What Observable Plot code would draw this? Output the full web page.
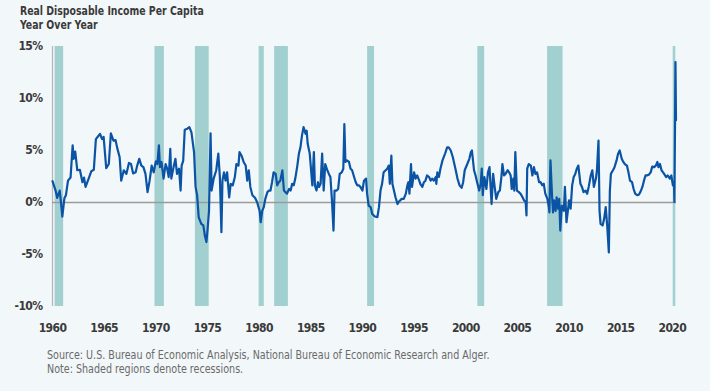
<!DOCTYPE html>
<html>
<head>
<meta charset="utf-8">
<script src="https://cdn.jsdelivr.net/npm/d3@7"></script>
<script src="https://cdn.jsdelivr.net/npm/@observablehq/plot@0.6"></script>
<style>
  html, body { margin: 0; padding: 0; width: 710px; height: 391px; overflow: hidden; background: #f2f7f9; }
  body { position: relative; font-family: "DejaVu Sans Condensed", "Roboto", sans-serif; font-stretch: condensed; }
  #title { position: absolute; left: 20px; top: 4px; font-size: 13px; line-height: 14px; font-weight: bold; color: #3a3a3a; transform: scaleX(0.8); transform-origin: 0 0; white-space: nowrap; }
  #chart { position: absolute; left: 0; top: 36px; }
  #caption { position: absolute; left: 47px; top: 348px; font-size: 11.5px; line-height: 14px; color: #6a6a6a; transform: scaleX(0.925); transform-origin: 0 0; white-space: nowrap; }
</style>
</head>
<body>
<div id="title">Real Disposable Income Per Capita<br>Year Over Year</div>
<div id="chart"></div>
<div id="caption">Source: U.S. Bureau of Economic Analysis, National Bureau of Economic Research and Alger.<br>Note: Shaded regions denote recessions.</div>
<script>
// Decimal years and year-over-year % values
const years = [
  1960.0,1960.3,1960.45,1960.7,1960.8,1960.95,1961.15,1961.3,1961.5,1961.75,1961.95,1962.05,1962.2,1962.4,1962.65,1962.9,
  1963.05,1963.2,1963.5,1963.75,1964.0,1964.2,1964.4,1964.6,1964.8,1964.95,1965.2,1965.45,1965.65,1965.9,1966.1,1966.25,
  1966.5,1966.65,1966.9,1967.15,1967.4,1967.6,1967.8,1968.05,1968.2,1968.4,1968.6,1968.8,1969.0,1969.2,1969.4,1969.6,1969.8,
  1970.0,1970.15,1970.3,1970.4,1970.55,1970.75,1970.95,1971.1,1971.25,1971.4,1971.5,1971.75,1971.9,1972.05,1972.25,1972.4,
  1972.5,1972.65,1972.8,1973.05,1973.25,1973.45,1973.7,1973.85,1974.0,1974.15,1974.4,1974.6,1974.75,1974.9,1975.0,1975.15,
  1975.3,1975.4,1975.6,1975.85,1976.05,1976.2,1976.35,1976.45,1976.6,1976.75,1976.9,1977.1,1977.25,1977.45,1977.65,1977.8,
  1978.0,1978.1,1978.3,1978.5,1978.7,1978.85,1979.0,1979.15,1979.35,1979.6,1979.8,1980.05,1980.15,1980.3,1980.45,1980.6,
  1980.8,1980.95,1981.1,1981.25,1981.4,1981.6,1981.75,1981.9,1982.05,1982.25,1982.4,1982.55,1982.7,1982.9,1983.05,1983.2,
  1983.35,1983.5,1983.7,1983.85,1984.0,1984.15,1984.3,1984.5,1984.6,1984.7,1984.9,1985.15,1985.3,1985.4,1985.55,1985.7,
  1985.8,1985.95,1986.1,1986.25,1986.4,1986.6,1986.75,1986.9,1987.05,1987.2,1987.3,1987.5,1987.65,1987.8,1988.0,1988.15,
  1988.25,1988.35,1988.5,1988.7,1988.85,1989.0,1989.15,1989.35,1989.5,1989.65,1989.8,1990.0,1990.15,1990.35,1990.45,1990.6,
  1990.8,1990.95,1991.2,1991.45,1991.6,1991.75,1991.9,1992.05,1992.25,1992.4,1992.55,1992.65,1992.8,1992.9,1993.05,1993.2,
  1993.4,1993.5,1993.8,1994.0,1994.2,1994.35,1994.45,1994.55,1994.7,1994.8,1995.0,1995.15,1995.3,1995.5,1995.6,1995.8,
  1995.95,1996.1,1996.25,1996.45,1996.6,1996.75,1996.9,1997.1,1997.15,1997.25,1997.4,1997.55,1997.75,1998.0,1998.2,1998.35,
  1998.55,1998.75,1999.0,1999.2,1999.4,1999.6,1999.75,1999.9,2000.15,2000.35,2000.5,2000.6,2000.8,2000.95,2001.1,2001.3,
  2001.45,2001.55,2001.65,2001.8,2002.0,2002.15,2002.3,2002.5,2002.65,2002.8,2002.95,2003.15,2003.3,2003.45,2003.55,2003.7,
  2003.85,2004.05,2004.2,2004.35,2004.45,2004.6,2004.7,2004.8,2004.95,2005.15,2005.3,2005.5,2005.65,2005.8,2005.88,2005.95,
  2006.1,2006.3,2006.45,2006.6,2006.75,2006.9,2007.1,2007.25,2007.4,2007.55,2007.7,2007.9,2008.05,2008.1,2008.2,2008.35,
  2008.45,2008.55,2008.7,2008.8,2008.95,2009.05,2009.15,2009.3,2009.5,2009.6,2009.75,2009.85,2010.0,2010.15,2010.3,2010.45,
  2010.6,2010.75,2010.9,2011.1,2011.25,2011.4,2011.6,2011.75,2011.9,2012.1,2012.25,2012.4,2012.6,2012.7,2012.85,2012.95,
  2013.05,2013.25,2013.4,2013.55,2013.7,2013.85,2013.95,2014.05,2014.25,2014.4,2014.6,2014.75,2014.9,2015.1,2015.25,2015.4,
  2015.6,2015.75,2015.9,2016.1,2016.25,2016.4,2016.6,2016.75,2016.9,2017.1,2017.25,2017.4,2017.55,2017.75,2017.9,2018.05,
  2018.25,2018.4,2018.55,2018.65,2018.8,2018.95,2019.1,2019.2,2019.4,2019.55,2019.75,2019.9,2020.05,2020.15,2020.2,2020.3,2020.35
];
const values = [
  2.05,1.15,0.45,1.15,0.2,-1.35,0.4,0.7,2.1,2.4,5.5,4.2,4.9,3.1,3.15,1.95,
  2.4,1.5,2.3,3.0,3.15,6.1,6.35,6.6,6.1,6.3,3.3,3.7,6.65,5.95,6.0,5.3,
  4.35,2.1,3.1,2.75,3.8,3.7,2.8,2.9,3.55,4.2,3.55,3.4,2.75,1.0,2.1,3.55,2.9,
  3.95,3.7,5.5,3.4,3.9,2.3,3.7,3.25,2.45,5.15,2.3,3.55,4.2,2.75,3.25,1.15,
  3.55,4.0,7.0,7.1,7.25,6.75,4.85,1.5,0.7,-1.4,-2.05,-2.2,-3.2,-3.8,-2.7,-0.8,
  6.65,1.15,2.3,3.1,4.7,2.45,-2.85,2.1,2.9,2.1,2.9,0.5,1.8,1.65,2.45,3.7,
  3.55,4.85,4.5,3.9,3.55,2.1,3.1,1.5,0.7,0.45,0.05,-0.8,-1.9,-0.8,-0.45,0.35,
  1.0,1.15,1.15,1.95,2.9,2.75,1.65,1.95,2.1,3.1,1.15,1.0,0.85,1.3,1.15,1.8,
  1.65,2.3,3.55,4.7,5.3,6.45,7.25,6.6,6.9,5.65,4.7,1.65,4.85,1.65,1.15,1.95,
  1.5,1.8,4.7,1.15,3.7,3.1,2.75,2.45,0.2,-2.7,1.15,1.15,1.3,2.75,2.9,3.25,
  7.55,3.9,4.05,3.9,3.25,3.1,2.6,1.95,1.65,1.65,1.5,1.15,2.1,2.3,0.85,-0.3,
  -0.45,-1.1,-1.35,-1.4,-0.45,1.15,1.8,2.9,3.1,3.25,3.55,1.8,4.5,1.8,1.15,0.5,
  -0.15,0.05,0.35,0.35,0.85,1.65,1.95,0.85,3.7,1.5,2.9,2.3,2.6,2.1,1.8,1.5,
  1.95,2.1,2.6,2.45,2.1,2.3,2.1,2.45,1.8,2.9,2.45,3.25,4.05,4.7,5.3,5.3,
  5.0,4.35,3.25,2.3,1.65,1.4,1.95,3.1,3.7,4.2,4.85,5.0,3.1,2.6,1.95,1.15,
  1.8,3.25,0.7,2.45,1.3,2.9,3.4,-0.15,2.75,1.5,0.35,1.0,1.15,2.45,3.7,2.6,
  2.75,3.1,2.9,2.6,1.3,2.3,1.15,4.85,1.15,1.0,0.85,0.5,0.2,0.05,-1.25,3.25,
  3.7,3.55,2.6,3.4,2.75,2.9,1.95,1.95,1.65,1.8,0.85,0.35,-0.45,-0.95,4.05,0.7,
  -0.95,0.2,-0.8,0.5,-0.6,0.35,-2.7,-0.3,-0.8,1.5,-1.9,-1.1,0.2,-0.6,1.65,2.45,
  2.75,3.25,3.55,1.8,1.5,1.0,1.15,0.85,1.5,2.6,3.1,1.5,2.3,3.1,5.95,-0.8,
  -2.05,-2.2,-1.55,-0.45,-2.35,-4.8,1.15,2.75,3.1,3.4,4.05,4.7,5.0,4.2,3.9,3.7,
  3.55,2.9,2.1,1.95,1.3,0.85,0.7,0.75,1.0,1.5,2.1,2.6,2.6,2.7,2.9,3.45,
  3.4,3.55,3.9,3.4,3.7,3.1,2.9,2.75,2.45,2.6,2.3,2.6,1.65,1.95,0.05,13.5,7.9
];
// NBER recession periods (decimal years)
const recessionStarts = [1960.25, 1969.92, 1973.83, 1980.0, 1981.5, 1990.5, 2001.17, 2007.92, 2020.08];
const recessionEnds   = [1961.08, 1970.83, 1975.17, 1980.5, 1982.83, 1991.17, 2001.83, 2009.42, 2020.33];
const xTicks = [1960, 1965, 1970, 1975, 1980, 1985, 1990, 1995, 2000, 2005, 2010, 2015, 2020];
const yTicks = [-10, -5, 0, 5, 10, 15];

const series = years.map((y, i) => ({year: y, value: values[i]}));
const recessions = recessionStarts.map((s, i) => ({start: s, end: recessionEnds[i]}));

const chart = Plot.plot({
  width: 710,
  height: 300,
  marginLeft: 52,
  marginRight: 34,
  marginTop: 10,
  marginBottom: 30,
  style: {background: "transparent", fontFamily: '"DejaVu Sans Condensed", "Roboto", sans-serif', fontSize: "12px", letterSpacing: "-0.6px", color: "#3a3a3a"},
  x: {domain: [1960, 2020.4]},
  y: {domain: [-10, 15]},
  marks: [
    Plot.rect(recessions, {x1: "start", x2: "end", fill: "#a2d0d0"}),
    Plot.ruleX([1960], {stroke: "#b5b5b5", strokeWidth: 1.2}),
    Plot.ruleY([0], {stroke: "#9a9a9a", strokeWidth: 1.5}),
    Plot.line(series, {x: "year", y: "value", stroke: "#0b53a4", strokeWidth: 2.2, strokeLinejoin: "round"}),
    Plot.axisX({ticks: xTicks, tickFormat: d => String(d), tickSize: 0, tickPadding: 17, fontWeight: "bold", label: null, fill: "#3a3a3a"}),
    Plot.axisY({ticks: yTicks, tickFormat: d => d + "%", tickSize: 0, tickPadding: 10, fontWeight: "bold", label: null, fill: "#3a3a3a"})
  ]
});
document.getElementById("chart").appendChild(chart);
</script>
</body>
</html>
